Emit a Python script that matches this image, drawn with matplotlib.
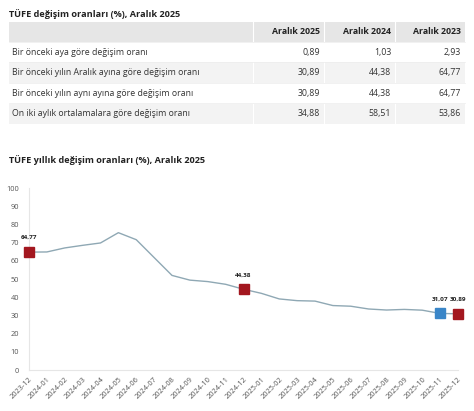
import numpy as np
import matplotlib.pyplot as plt
from matplotlib.patches import Rectangle

plt.rcParams['font.family'] = ['Open Sans', 'DejaVu Sans']

# ---- table data ----
table_title = 'TÜFE değişim oranları (%), Aralık 2025'
col_heads = ['Aralık 2025', 'Aralık 2024', 'Aralık 2023']
row_labels = ['Bir önceki aya göre değişim oranı',
              'Bir önceki yılın Aralık ayına göre değişim oranı',
              'Bir önceki yılın aynı ayına göre değişim oranı',
              'On iki aylık ortalamalara göre değişim oranı']
table_vals = [['0,89', '1,03', '2,93'],
              ['30,89', '44,38', '64,77'],
              ['30,89', '44,38', '64,77'],
              ['34,88', '58,51', '53,86']]

# ---- chart data ----
chart_title = 'TÜFE yıllık değişim oranları (%), Aralık 2025'
months = ['2023-12', '2024-01', '2024-02', '2024-03', '2024-04', '2024-05',
          '2024-06', '2024-07', '2024-08', '2024-09', '2024-10', '2024-11',
          '2024-12', '2025-01', '2025-02', '2025-03', '2025-04', '2025-05',
          '2025-06', '2025-07', '2025-08', '2025-09', '2025-10', '2025-11',
          '2025-12']
annual = [64.77, 64.86, 67.07, 68.50, 69.80, 75.45, 71.60, 61.78, 51.97,
          49.38, 48.58, 47.09, 44.38, 42.12, 39.05, 38.10, 37.86, 35.41,
          35.05, 33.52, 32.95, 33.29, 32.87, 31.07, 30.89]
red_pts = ['2023-12', '2024-12', '2025-12']
blue_pts = ['2025-11']

W, H = 474, 411
fig = plt.figure(figsize=(W / 100, H / 100), dpi=100)
fig.patch.set_facecolor('white')

# overlay axes in pixel units for the table and titles
ax_t = fig.add_axes([0, 0, 1, 1])
ax_t.set_xlim(0, W)
ax_t.set_ylim(H, 0)
ax_t.axis('off')

ax_t.text(9, 14, table_title, fontsize=6.6, fontweight='bold', color='#222222',
          va='center', ha='left')

col_edges = [9, 253, 324, 395, 465]
row_top = 22
head_h = 20
row_h = 20.5

ax_t.add_patch(Rectangle((col_edges[0], row_top), col_edges[-1] - col_edges[0], head_h,
                         facecolor='#e6e6e6', edgecolor='none'))
for j, h in enumerate(col_heads):
    ax_t.text(col_edges[j + 2] - 4, row_top + head_h / 2, h, fontsize=6.3,
              fontweight='bold', color='#222222', ha='right', va='center')

for i, lab in enumerate(row_labels):
    y0 = row_top + head_h + i * row_h
    fc = '#f3f3f3' if i % 2 == 1 else 'white'
    ax_t.add_patch(Rectangle((col_edges[0], y0), col_edges[-1] - col_edges[0], row_h,
                             facecolor=fc, edgecolor='none'))
    ax_t.text(col_edges[0] + 3, y0 + row_h / 2, lab, fontsize=6.3, color='#333333',
              ha='left', va='center')
    for j, v in enumerate(table_vals[i]):
        ax_t.text(col_edges[j + 2] - 4, y0 + row_h / 2, v, fontsize=6.3,
                  color='#333333', ha='right', va='center')

# thin white separators between columns and rows
bottom = row_top + head_h + len(row_labels) * row_h
for xe in col_edges[1:-1]:
    ax_t.plot([xe, xe], [row_top, bottom], color='white', lw=0.8)
for i in range(len(row_labels)):
    yy = row_top + head_h + i * row_h
    ax_t.plot([col_edges[0], col_edges[-1]], [yy, yy], color='#ececec', lw=0.5)

ax_t.text(9, 160, chart_title, fontsize=6.6, fontweight='bold', color='#222222',
          va='center', ha='left')

# ---- line chart ----
ax = fig.add_axes([29 / W, (H - 370) / H, (458 - 29) / W, (370 - 188) / H])
x = np.arange(len(months))
ax.plot(x, annual, color='#8fa8b4', lw=1.0, zorder=2, clip_on=False)

for m in red_pts + blue_pts:
    k = months.index(m)
    c = '#a3171f' if m in red_pts else '#3a86c8'
    ax.plot(x[k], annual[k], marker='s', ms=6.5, color=c, mec=c, zorder=3,
            clip_on=False, ls='none')
    ax.annotate(f'{annual[k]:.2f}'.replace('.', ','), (x[k], annual[k]),
                xytext=(0, 8.5), textcoords='offset points', ha='center',
                va='bottom', fontsize=4.6, fontweight='bold', color='#222222')

ax.set_xlim(0, len(months) - 1)
ax.set_ylim(0, 100)
ax.set_yticks(np.arange(0, 101, 10))
ax.set_xticks(x)
ax.set_xticklabels(months, rotation=45, ha='right', rotation_mode='anchor')
ax.tick_params(axis='both', length=0, labelsize=5.3, labelcolor='#555555')
ax.tick_params(axis='y', pad=7)
ax.tick_params(axis='x', pad=4)
for s in ['top', 'right']:
    ax.spines[s].set_visible(False)
ax.spines['left'].set_color('#e6e6e6')
ax.spines['bottom'].set_color('#e6e6e6')
ax.spines['left'].set_linewidth(0.8)
ax.spines['bottom'].set_linewidth(0.8)
ax.set_facecolor('none')

fig.savefig('out.png', dpi=100)
